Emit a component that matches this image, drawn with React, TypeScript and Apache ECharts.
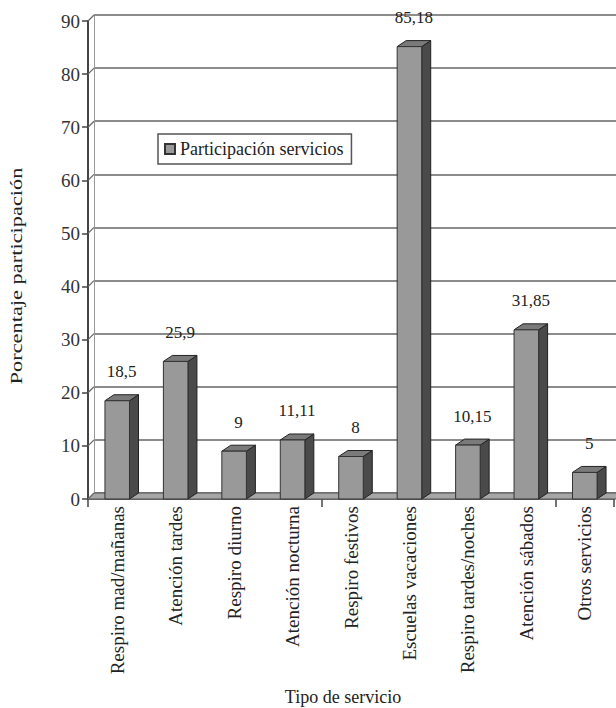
import React, { useEffect, useRef } from "react";
import * as echarts from "echarts";

const categories = [
  "Respiro mad/mañanas",
  "Atención tardes",
  "Respiro diurno",
  "Atención nocturna",
  "Respiro festivos",
  "Escuelas vacaciones",
  "Respiro tardes/noches",
  "Atención sábados",
  "Otros servicios",
];
const values = [18.5, 25.9, 9, 11.11, 8, 85.18, 10.15, 31.85, 5];
const valueLabels = ["18,5", "25,9", "9", "11,11", "8", "85,18", "10,15", "31,85", "5"];
const seriesName = "Participación servicios";
const Y_MIN = 0;
const Y_MAX = 90;
const Y_STEP = 10;

const FONT = "'Liberation Serif', 'Times New Roman', serif";
const DX = 6;
const DY = 6;
const BAR_DX = 9;
const BAR_DY = 6;

export default function App() {
  const ref = useRef<HTMLDivElement>(null);
  useEffect(() => {
    if (!ref.current) return;
    const chart = echarts.init(ref.current, undefined, { renderer: "svg" });
    const option: any = {
      animation: false,
      backgroundColor: "#ffffff",
      textStyle: { fontFamily: FONT },
      legend: {
        data: [{ name: seriesName, icon: "rect" }],
        left: 158,
        top: 134,
        orient: "horizontal",
        itemWidth: 10,
        itemHeight: 10,
        itemGap: 6,
        padding: [6, 8, 6, 6],
        borderColor: "#555",
        borderWidth: 1.5,
        backgroundColor: "#fff",
        textStyle: { fontFamily: FONT, fontSize: 18, color: "#222" },
        selectedMode: false,
      },
      grid: [
        { left: 88, top: 21, right: 2, bottom: 209 },
        { left: 88 + DX, top: 21 - DY, right: -30, bottom: 209 + DY },
      ],
      xAxis: [
        {
          gridIndex: 0,
          type: "category",
          data: categories,
          axisLine: { show: true, lineStyle: { color: "#444", width: 1.5 } },
          axisTick: { show: true, interval: 3, length: 8, lineStyle: { color: "#444", width: 1.5 } },
          axisLabel: {
            interval: 0,
            rotate: 90,
            margin: 7,
            fontFamily: FONT,
            fontSize: 19,
            color: "#222",
          },
        },
        { gridIndex: 1, type: "category", data: categories, show: false },
      ],
      yAxis: [
        {
          gridIndex: 0,
          type: "value",
          min: Y_MIN,
          max: Y_MAX,
          interval: Y_STEP,
          axisLine: { show: true, lineStyle: { color: "#444", width: 2 } },
          axisTick: { show: true, length: 6, lineStyle: { color: "#444", width: 1.5 } },
          axisLabel: { margin: 8, fontFamily: FONT, fontSize: 19, color: "#333" },
          splitLine: { show: false },
        },
        {
          gridIndex: 1,
          type: "value",
          min: Y_MIN,
          max: Y_MAX,
          interval: Y_STEP,
          axisLine: { show: true, lineStyle: { color: "#999", width: 1 } },
          axisTick: { show: false },
          axisLabel: { show: false },
          splitLine: { show: true, lineStyle: { color: "#666", width: 1.5 } },
        },
      ],
      series: [
        {
          type: "custom",
          name: "floor",
          xAxisIndex: 0,
          yAxisIndex: 0,
          data: [[0, 0]],
          silent: true,
          z: 1,
          renderItem: (params: any, api: any) => {
            const cs = params.coordSys;
            const y0 = cs.y + cs.height;
            const xl = cs.x;
            const xr = cs.x + cs.width + 40;
            const children: any[] = [
              {
                type: "polygon",
                shape: {
                  points: [
                    [xl, y0],
                    [xr, y0],
                    [xr + DX, y0 - DY],
                    [xl + DX, y0 - DY],
                  ],
                },
                style: { fill: "#a6a6a6", stroke: "#555", lineWidth: 1 },
              },
            ];
            for (let v = Y_MIN; v <= Y_MAX; v += Y_STEP) {
              const p = api.coord([0, v]);
              children.push({
                type: "line",
                shape: { x1: xl, y1: p[1], x2: xl + DX, y2: p[1] - DY },
                style: { stroke: "#666", lineWidth: 1.2 },
              });
            }
            return { type: "group", children };
          },
        },
        {
          type: "custom",
          name: seriesName,
          xAxisIndex: 0,
          yAxisIndex: 0,
          z: 3,
          itemStyle: { color: "#999999", borderColor: "#333", borderWidth: 1 },
          data: values.map((v, i) => [i, v]),
          renderItem: (params: any, api: any) => {
            const idx = params.dataIndex;
            const x = api.value(0);
            const v = api.value(1);
            const base = api.coord([x, 0]);
            const top = api.coord([x, v]);
            const bw = api.size([1, 0])[0] * 0.42;
            const l = base[0] - bw / 2;
            const r = base[0] + bw / 2;
            const yb = base[1];
            const yt = top[1];
            return {
              type: "group",
              children: [
                {
                  type: "polygon",
                  shape: {
                    points: [
                      [r, yt],
                      [r + BAR_DX, yt - BAR_DY],
                      [r + BAR_DX, yb - BAR_DY],
                      [r, yb],
                    ],
                  },
                  style: { fill: "#4a4a4a", stroke: "#222", lineWidth: 1 },
                },
                {
                  type: "polygon",
                  shape: {
                    points: [
                      [l, yt],
                      [l + BAR_DX, yt - BAR_DY],
                      [r + BAR_DX, yt - BAR_DY],
                      [r, yt],
                    ],
                  },
                  style: { fill: "#7a7a7a", stroke: "#222", lineWidth: 1 },
                },
                {
                  type: "rect",
                  shape: { x: l, y: yt, width: bw, height: yb - yt },
                  style: { fill: "#999999", stroke: "#333", lineWidth: 1 },
                },
                {
                  type: "text",
                  x: base[0] + BAR_DX / 2,
                  y: yt - 29,
                  style: {
                    text: valueLabels[idx],
                    fontFamily: FONT,
                    fontSize: 17,
                    fill: "#222",
                    align: "center",
                    verticalAlign: "middle",
                  },
                },
              ],
            };
          },
        },
      ],
      graphic: [
        {
          type: "text",
          x: 17,
          y: 276,
          rotation: Math.PI / 2,
          scaleX: 1.4,
          style: {
            text: "Porcentaje participación",
            fontFamily: FONT,
            fontSize: 16,
            fill: "#222",
            align: "center",
            verticalAlign: "middle",
          },
        },
        {
          type: "text",
          x: 343,
          y: 697,
          style: {
            text: "Tipo de servicio",
            fontFamily: FONT,
            fontSize: 18,
            fill: "#222",
            align: "center",
            verticalAlign: "middle",
          },
        },
      ],
    };
    chart.setOption(option);
    return () => chart.dispose();
  }, []);
  return (
    <div
      ref={ref}
      style={{ position: "absolute", left: 0, top: 0, width: 616, height: 708 }}
    />
  );
}
